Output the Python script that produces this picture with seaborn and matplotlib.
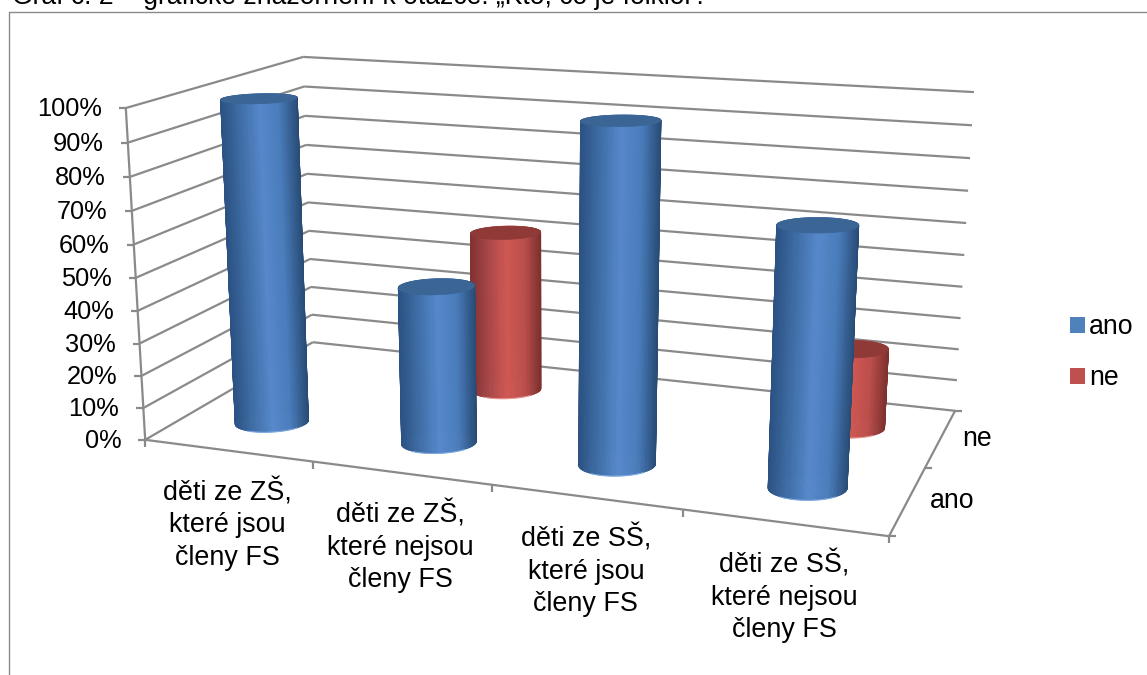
import numpy as np
import pandas as pd
import seaborn as sns
import matplotlib
matplotlib.use('Agg')
import matplotlib.pyplot as plt
from matplotlib.collections import PolyCollection
from matplotlib.patches import Patch

## Data
categories = ['děti ze ZŠ,\nkteré jsou\nčleny FS', 'děti ze ZŠ,\nkteré nejsou\nčleny FS',
              'děti ze SŠ,\nkteré jsou\nčleny FS', 'děti ze SŠ,\nkteré nejsou\nčleny FS']
series_names = ['ano', 'ne']
ano_values = [100, 48, 100, 75]
ne_values = [0, 52, 0, 25]
percent_ticks = list(range(0, 101, 10))
title = 'Graf č. 2 – grafické znázornění k otázce: „Kto, co je folklór?'

df = pd.DataFrame({'kat': list(range(4)) * 2,
                   'serie': ['ano'] * 4 + ['ne'] * 4,
                   'hodnota': ano_values + ne_values})

sns.set_theme(style='white')
plt.rcParams['font.family'] = ['Liberation Sans', 'DejaVu Sans']
plt.rcParams['text.color'] = 'black'
colors = sns.color_palette(['#4F81BD', '#C0504D'])
GREY = '#8A8A8A'

## Box corners of the 3D chart in pixels (u = category, v = series, w = value)
box_uvw = [(0, 0, 0), (1, 0, 0), (1, 1, 0), (0, 1, 0), (0, 0, 1), (1, 1, 1), (0, 1, 1)]
box_px = [(145, 440), (889, 536), (955, 411), (313, 342), (126, 108), (974, 92), (303, 57)]

rows = []
for (u, v, w), (x, y) in zip(box_uvw, box_px):
    rows.append([u, v, w, 1, 0, 0, 0, 0, -x * u, -x * v, -x * w, -x])
    rows.append([0, 0, 0, 0, u, v, w, 1, -y * u, -y * v, -y * w, -y])
P = np.linalg.svd(np.array(rows, float))[2][-1].reshape(3, 4)


def pt(u, v, w):
    q = P @ np.array([u, v, w, 1.0])
    return q[0] / q[2], q[1] / q[2]


def seg(ax, a, b, **kw):
    ax.plot([a[0], b[0]], [a[1], b[1]], color=GREY, lw=1.6, solid_capstyle='butt', **kw)


def cylinder(ax, kat, ser, value, side, cap, rim):
    # one cylinder standing on the floor of the box
    uc, vc = (kat + 0.5) / 4, (ser + 0.5) / 2
    t = np.linspace(0, 2 * np.pi, 121)
    # base ellipse stays level on screen, so its axes are mixed in u and v
    uu = uc + 0.0455 * np.cos(t) + 0.0128 * np.sin(t)
    vv = vc + 0.0397 * np.cos(t) - 0.0796 * np.sin(t)
    qb = P @ np.vstack([uu, vv, 0 * t, 1 + 0 * t])
    qt = P @ np.vstack([uu, vv, 0 * t + value / 100, 1 + 0 * t])
    bx, by = qb[0] / qb[2], qb[1] / qb[2]
    tx, ty = qt[0] / qt[2], qt[1] / qt[2]
    polys, cols = [], []
    lo, hi = bx.min(), bx.max()
    order = sorted(range(120), key=lambda i: by[i] + by[i + 1])
    for i in order:
        s = np.clip(((bx[i] + bx[i + 1]) / 2 - lo) / (hi - lo), 0, 1)
        polys.append([(bx[i], by[i]), (bx[i + 1], by[i + 1]), (tx[i + 1], ty[i + 1]), (tx[i], ty[i])])
        cols.append(side[int(s * (len(side) - 1))])
    ax.add_collection(PolyCollection(polys, facecolors=cols, edgecolors=cols, linewidths=0.6, zorder=3))
    front = (by >= by.mean()) & (bx > lo + 0.15 * (hi - lo)) & (bx < lo + 0.85 * (hi - lo))
    idx = np.argsort(bx[front])
    ax.plot(bx[front][idx], by[front][idx] + 0.3, color=rim, lw=0.8, zorder=3)
    ax.fill(tx, ty, color=cap, lw=0.5, zorder=3)


fig = plt.figure(figsize=(11.47, 6.75), dpi=100)
ax = fig.add_axes([0, 0, 1, 1])
ax.set_xlim(0, 1147)
ax.set_ylim(675, 0)
ax.axis('off')

## Frame and clipped caption
ax.plot([8.5, 8.5, 1147], [675, 12, 12], color=GREY, lw=1)
ax.text(12, 3.5, title, fontsize=19.1, ha='left', va='baseline', clip_on=True)

## Gridlines on the walls
for p in percent_ticks:
    w = p / 100
    seg(ax, pt(0, 0, w), pt(0, 1, w))
    seg(ax, pt(0, 1, w), pt(1, 1, w))
    x, y = pt(0, 0, w)
    seg(ax, (x - 7, y), (x, y))
    ax.text(x - 24, y + 1, f'{p}%', ha='right', va='center', fontsize=18.3)

## Floor edges, axes and ticks
seg(ax, pt(0, 0, 0), pt(0, 0, 1))
seg(ax, pt(0, 0, 0), pt(1, 0, 0))
seg(ax, pt(1, 0, 0), pt(1, 1, 0))
for i in range(5):
    x, y = pt(i / 4, 0, 0)
    seg(ax, (x, y), (x, y + 7))
for i in range(3):
    x, y = pt(1, i / 2, 0)
    seg(ax, (x, y), (x + 7, y))

for i, lab in enumerate(categories):
    x, y = pt((i + 0.5) / 4, 0, 0)
    ax.text(x, y + 74, lab, ha='center', va='center', fontsize=19.4, linespacing=1.32)
for i, lab in enumerate(series_names):
    x, y = pt(1, (i + 0.5) / 2, 0)
    ax.text(x + 22, y + 1, lab, ha='left', va='center', fontsize=19.2)

## Cylinders, back row first
sides = {'ano': sns.blend_palette(['#2C5283', '#3F6EA6', '#5688CB', '#4A7DBB', '#274A73'], 101),
         'ne': sns.blend_palette(['#803331', '#A8474A', '#D05852', '#BC4F4C', '#7A302E'], 101)}
caps = {'ano': '#3A6594', 'ne': '#8F3A37'}
rims = {'ano': '#7FAAE0', 'ne': '#E89A96'}
for ser in [1, 0]:
    name = series_names[ser]
    sub = df[df['serie'] == name]
    for kat, val in zip(sub['kat'], sub['hodnota']):
        if val > 0:
            cylinder(ax, kat, ser, val, sides[name], caps[name], rims[name])

## Legend
handles = [Patch(facecolor=colors[i], edgecolor='none', label=series_names[i]) for i in range(2)]
ax.legend(handles=handles, loc='upper left', bbox_to_anchor=(1062 / 1147, 1 - 306 / 675), frameon=False,
          fontsize=19.2, handlelength=0.55, handleheight=0.55, handletextpad=0.17, labelspacing=0.95,
          borderpad=0, borderaxespad=0.3)

fig.savefig('out.png', dpi=100)
